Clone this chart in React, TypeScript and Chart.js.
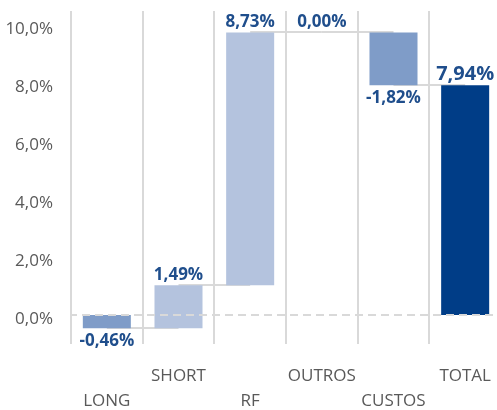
import React, { useEffect, useRef } from "react";
import { Chart, registerables } from "chart.js";

Chart.register(...registerables);

const categories = ["LONG", "SHORT", "RF", "OUTROS", "CUSTOS", "TOTAL"];
const deltas = [-0.46, 1.49, 8.73, 0.0, -1.82];
const totalValue = 7.94;
const yTicks = [0, 2, 4, 6, 8, 10];
const yMin = -1;
const yMax = 10.5;

const negColor = "#7f9cc8";
const posColor = "#b4c3de";
const totalColor = "#003d87";
const labelColor = "#1f4e8c";
const axisTextColor = "#595959";
const gridColor = "#d9d9d9";
const fontFamily = "'Open Sans', 'Noto Sans', sans-serif";

const fmt = (v: number) => v.toFixed(2).replace(".", ",") + "%";

function buildRanges(): [number, number][] {
  const out: [number, number][] = [];
  let cum = 0;
  for (const d of deltas) {
    const next = Math.round((cum + d) * 100) / 100;
    out.push([cum, next]);
    cum = next;
  }
  out.push([0, totalValue]);
  return out;
}

export default function App() {
  const canvasRef = useRef<HTMLCanvasElement | null>(null);

  useEffect(() => {
    const canvas = canvasRef.current;
    if (!canvas) return;
    const ranges = buildRanges();
    const values = [...deltas, totalValue];
    const colors = values.map((v, i) =>
      i === values.length - 1 ? totalColor : v < 0 ? negColor : posColor
    );

    const waterfallPlugin = {
      id: "waterfall",
      beforeDatasetsDraw(chart: any) {
        const ctx = chart.ctx;
        const meta = chart.getDatasetMeta(0);
        const ys = chart.scales.y;
        ctx.save();
        ctx.strokeStyle = gridColor;
        ctx.lineWidth = 2;
        for (let i = 0; i < ranges.length - 1; i++) {
          const y = Math.round(ys.getPixelForValue(ranges[i][1]));
          ctx.beginPath();
          ctx.moveTo(meta.data[i].x, y);
          ctx.lineTo(meta.data[i + 1].x, y);
          ctx.stroke();
        }
        ctx.restore();
      },
      afterDatasetsDraw(chart: any) {
        const ctx = chart.ctx;
        const meta = chart.getDatasetMeta(0);
        const ys = chart.scales.y;
        const area = chart.chartArea;
        ctx.save();
        // dashed zero line
        const y0 = Math.round(ys.getPixelForValue(0));
        ctx.strokeStyle = gridColor;
        ctx.lineWidth = 2;
        ctx.setLineDash([8, 5]);
        ctx.lineDashOffset = -11;
        ctx.beginPath();
        ctx.moveTo(area.left, y0);
        ctx.lineTo(area.right, y0);
        ctx.stroke();
        ctx.setLineDash([]);
        // labels
        ctx.fillStyle = labelColor;
        ctx.textAlign = "center";
        ctx.textBaseline = "alphabetic";
        for (let i = 0; i < values.length; i++) {
          const isTotal = i === values.length - 1;
          const v = values[i];
          const lo = Math.min(ranges[i][0], ranges[i][1]);
          const hi = Math.max(ranges[i][0], ranges[i][1]);
          ctx.font = `bold ${isTotal ? 20 : 17}px ${fontFamily}`;
          const x = meta.data[i].x;
          if (v >= 0 || isTotal) {
            ctx.fillText(fmt(v), x, ys.getPixelForValue(hi) - 5);
          } else {
            ctx.fillText(fmt(v), x, ys.getPixelForValue(lo) + 18);
          }
        }
        ctx.restore();
      },
    };

    const chart = new Chart(canvas, {
      type: "bar",
      data: {
        labels: categories,
        datasets: [
          {
            data: ranges as any,
            backgroundColor: colors,
            borderWidth: 0,
            categoryPercentage: 1,
            barPercentage: 0.67,
          },
        ],
      },
      options: {
        responsive: false,
        animation: false,
        devicePixelRatio: 1,
        layout: { padding: { top: 11, left: 0, right: 0, bottom: 0 } },
        plugins: {
          legend: { display: false },
          tooltip: { enabled: false },
        },
        scales: {
          x: {
            grid: {
              display: true,
              offset: true,
              color: gridColor,
              lineWidth: 2,
              drawTicks: false,
            },
            border: { display: false },
            ticks: {
              autoSkip: false,
              maxRotation: 0,
              minRotation: 0,
              color: axisTextColor,
              padding: 20,
              font: { family: fontFamily, size: 17, lineHeight: 1.45 },
              callback: (_v: any, index: number) =>
                index % 2 === 0 ? ["", categories[index]] : categories[index],
            },
            afterFit: (scale: any) => {
              scale.height = 66;
              scale.paddingLeft = 0;
              scale.paddingRight = 0;
            },
          },
          y: {
            min: yMin,
            max: yMax,
            grid: { display: false, drawTicks: false },
            border: { display: false },
            afterBuildTicks: (scale: any) => {
              scale.ticks = yTicks.map((v) => ({ value: v }));
            },
            ticks: {
              color: axisTextColor,
              padding: 18,
              labelOffset: 4,
              font: { family: fontFamily, size: 17 },
              callback: (v: any) => Number(v).toFixed(1).replace(".", ",") + "%",
            },
            afterFit: (scale: any) => {
              scale.width = 71;
              scale.paddingTop = 0;
              scale.paddingBottom = 0;
            },
          },
        },
      },
      plugins: [waterfallPlugin],
    });

    return () => {
      chart.destroy();
    };
  }, []);

  return (
    <div
      style={{
        position: "fixed",
        left: 0,
        top: 0,
        width: 497,
        height: 410,
        overflow: "hidden",
        background: "#ffffff",
      }}
    >
      <canvas ref={canvasRef} width={501} height={410} style={{ display: "block" }} />
    </div>
  );
}
